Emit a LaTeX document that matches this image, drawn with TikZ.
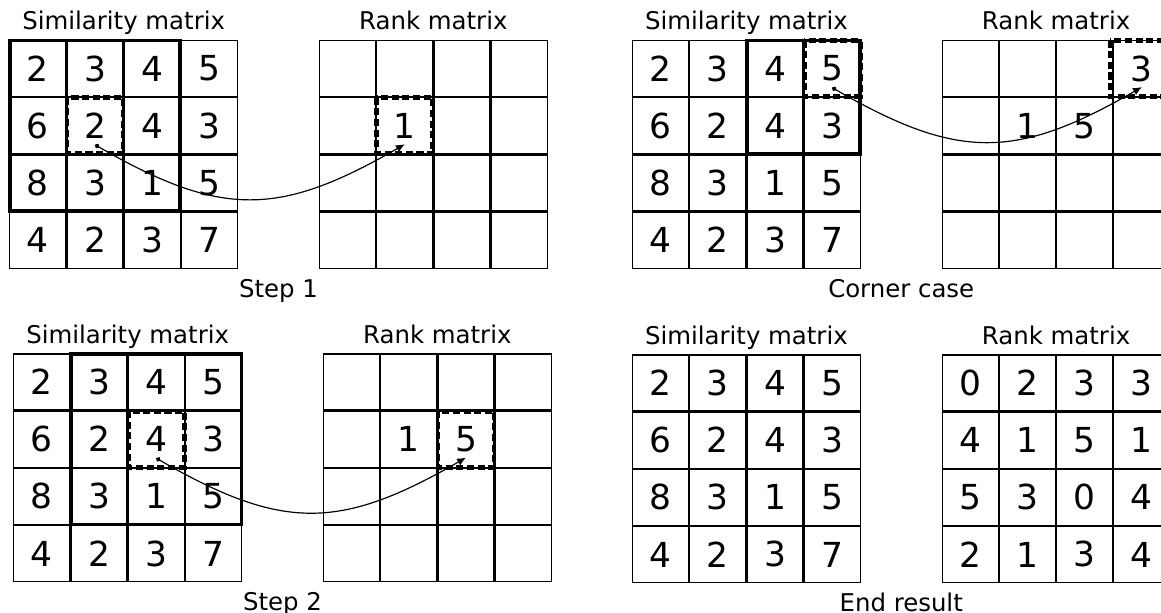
\documentclass[tikz,border=0pt]{standalone}
\usepackage{fontspec}
\setmainfont{DejaVu Sans}
\usepackage{tikz}
\usetikzlibrary{matrix, positioning, calc, arrows.meta}

\begin{document}
\begin{tikzpicture}[
    cell/.style={draw, line width=0.6pt, minimum size=1cm, inner sep=0pt, outer sep=0pt, anchor=center, font=\fontsize{17.5}{20}\selectfont},
    board/.style={matrix of nodes, nodes in empty cells, nodes={cell}, column sep=0pt, row sep=0pt, inner sep=0pt, outer sep=0pt, anchor=north west},
    heading/.style={inner sep=0pt, text depth=0.25em, font=\fontsize{12.4}{14}\selectfont},
    steptext/.style={heading, anchor=north, yshift=-5pt},
    window/.style={line width=1.8pt},
    chosen/.style={line width=2.4pt, dash pattern=on 3.6pt off 1.8pt},
    link/.style={{Circle[length=2.4pt]}-{Latex[length=4.5pt, width=4pt]}, line width=0.6pt}
]
    \useasboundingbox (0,0) rectangle (20.732,-10.929);

    % step 1
    \matrix (sa) [board] at (0.166,-0.714) {
        2 & 3 & 4 & 5 \\
        6 & 2 & 4 & 3 \\
        8 & 3 & 1 & 5 \\
        4 & 2 & 3 & 7 \\
    };
    \matrix (ra) [board, right=1.446cm of sa] {
          &   &   &   \\
          & 1 &   &   \\
          &   &   &   \\
          &   &   &   \\
    };
    \node[heading] (ta) [above=2.5pt of sa] {Similarity matrix};
    \node[heading] (tra) [above=2.5pt of ra] {Rank matrix};
    \node[steptext] (ca) at ($(sa.south east)!.5!(ra.south west)$) {Step 1};
    \draw[window] (sa-1-1.north west) rectangle (sa-3-3.south east);
    \draw[chosen] (sa-2-2.north west) rectangle (sa-2-2.south east);
    \draw[chosen] (ra-2-2.north west) rectangle (ra-2-2.south east);
    \coordinate (pa) at ([yshift=-0.34cm]sa-2-2.center);
    \coordinate (qa) at ([yshift=-0.33cm]ra-2-2.center);
    \path[link] (pa) edge[out=-30, in=-150, looseness=1.2] (qa);

    % corner case
    \matrix (sb) [board] at (11.286,-0.714) {
        2 & 3 & 4 & 5 \\
        6 & 2 & 4 & 3 \\
        8 & 3 & 1 & 5 \\
        4 & 2 & 3 & 7 \\
    };
    \matrix (rb) [board, right=1.446cm of sb] {
          &   &   & 3 \\
          & 1 & 5 &   \\
          &   &   &   \\
          &   &   &   \\
    };
    \node[heading] (tb) [above=2.5pt of sb] {Similarity matrix};
    \node[heading] (trb) [above=2.5pt of rb] {Rank matrix};
    \node[steptext] (cb) at ($(sb.south east)!.5!(rb.south west)$) {Corner case};
    \draw[chosen] (sb-1-4.north west) rectangle (sb-1-4.south east);
    \draw[window] (sb-1-3.north west) rectangle (sb-2-4.south east);
    \draw[chosen] ([xshift=-2pt]rb-1-4.north west) rectangle ([xshift=-2pt]rb-1-4.south east);
    \coordinate (pb) at ([yshift=-0.34cm]sb-1-4.center);
    \coordinate (qb) at ([yshift=-0.33cm]rb-1-4.center);
    \path[link] (pb) edge[out=-30, in=-150, looseness=1.2] (qb);

    % step 2
    \matrix (sc) [board] at (0.2375,-6.31) {
        2 & 3 & 4 & 5 \\
        6 & 2 & 4 & 3 \\
        8 & 3 & 1 & 5 \\
        4 & 2 & 3 & 7 \\
    };
    \matrix (rc) [board, right=1.446cm of sc] {
          &   &   &   \\
          & 1 & 5 &   \\
          &   &   &   \\
          &   &   &   \\
    };
    \node[heading] (tc) [above=2.5pt of sc] {Similarity matrix};
    \node[heading] (trc) [above=2.5pt of rc] {Rank matrix};
    \node[steptext] (cc) at ($(sc.south east)!.5!(rc.south west)$) {Step 2};
    \draw[window] (sc-1-2.north west) rectangle (sc-3-4.south east);
    \draw[chosen] (sc-2-3.north west) rectangle (sc-2-3.south east);
    \draw[chosen] (rc-2-3.north west) rectangle (rc-2-3.south east);
    \coordinate (pc) at ([yshift=-0.34cm]sc-2-3.center);
    \coordinate (qc) at ([yshift=-0.33cm]rc-2-3.center);
    \path[link] (pc) edge[out=-30, in=-150, looseness=1.2] (qc);

    % end result
    \matrix (sd) [board] at (11.286,-6.327) {
        2 & 3 & 4 & 5 \\
        6 & 2 & 4 & 3 \\
        8 & 3 & 1 & 5 \\
        4 & 2 & 3 & 7 \\
    };
    \matrix (rd) [board, right=1.446cm of sd] {
        0 & 2 & 3 & 3 \\
        4 & 1 & 5 & 1 \\
        5 & 3 & 0 & 4 \\
        2 & 1 & 3 & 4 \\
    };
    \node[heading] (td) [above=2.5pt of sd] {Similarity matrix};
    \node[heading] (trd) [above=2.5pt of rd] {Rank matrix};
    \node[steptext] (cd) at ($(sd.south east)!.5!(rd.south west)$) {End result};
\end{tikzpicture}
\end{document}
